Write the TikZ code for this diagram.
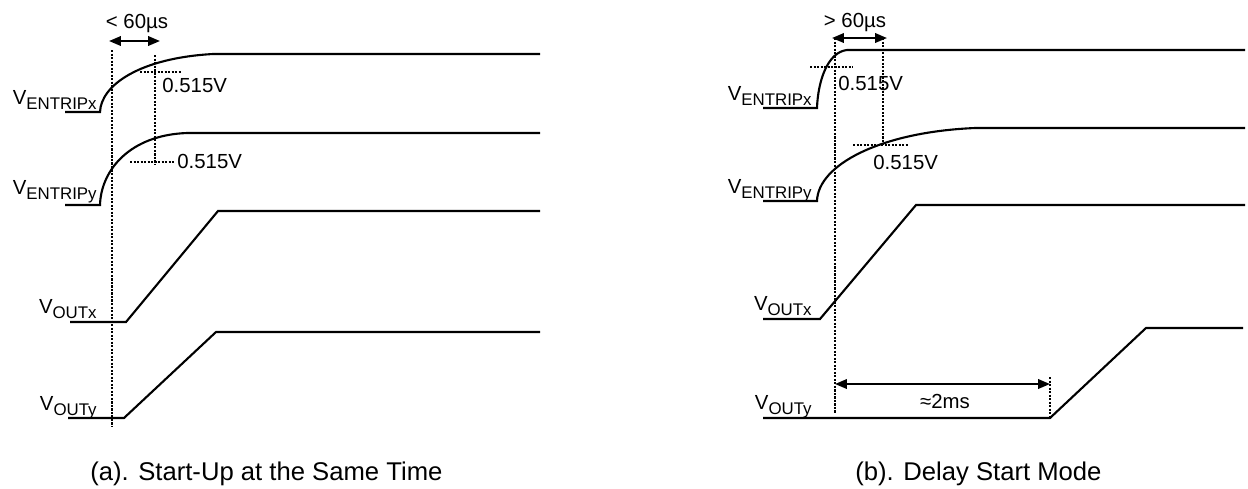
\documentclass[tikz,border=0pt]{standalone}
\usepackage{fontspec}
\setmainfont{Liberation Sans}
\usetikzlibrary{arrows.meta}
\newcommand{\vsig}[1]{V\raisebox{-3pt}{\fontsize{9.6}{10}\selectfont #1}}

\begin{document}
\begin{tikzpicture}[
		x=0.02cm, y=-0.02cm,
		wave/.style={line width=1.2pt},
		guide/.style={line width=1.5pt, dash pattern=on 1.2pt off 0.8pt},
		dim/.style={{Triangle[length=6.8pt,width=5.4pt]}-{Triangle[length=6.8pt,width=5.4pt]}, line width=1.2pt},
		lbl/.style={font=\fontsize{11.6}{13}\selectfont, inner sep=0pt},
		caption/.style={font=\fontsize{14.6}{17}\selectfont, inner sep=0pt}
	]
	\useasboundingbox (0,0) rectangle (1248,488);

	% (a) start-up at the same time
	\draw[wave] (65,112) -- (100,112) .. controls (101,85) and (140,58) .. (213,54) -- (540,54);
	\draw[wave] (65,205) -- (100,205) .. controls (101,170) and (130,135) .. (187,133) -- (540,133);
	\draw[wave] (70,322) -- (126,322) -- (218,211) -- (540,211);
	\draw[wave] (68,418) -- (124,418) -- (216,332) -- (540,332);
	\node[lbl, anchor=base east] (enxa) at (97,104) {\vsig{ENTRIPx}};
	\node[lbl, anchor=base east] (enya) at (97,194) {\vsig{ENTRIPy}};
	\node[lbl, anchor=base east] (outxa) at (97,313) {\vsig{OUTx}};
	\node[lbl, anchor=base east] (outya) at (97,410) {\vsig{OUTy}};
	\draw[guide] (112,50) -- (112,427);
	\draw[guide] (155,55) -- (155,165);
	\draw[guide] (140,72) -- (182,72);
	\draw[guide] (130,162) -- (175,162);
	\node[lbl, anchor=west] (thxa) at (162,85) {0.515V};
	\node[lbl, anchor=west] (thya) at (177,161) {0.515V};
	\coordinate (ta0) at (109,41);
	\coordinate (ta1) at (160,41);
	\draw[dim] (ta0) -- (ta1);
	\node[lbl, anchor=base] (dta) at (137,28) {< 60µs};
	\node[caption, anchor=base west] (capa) at (90,480) {(a). Start-Up at the Same Time};

	% (b) delay start mode
	\draw[wave] (763,108) -- (817,108) .. controls (818,80) and (828,52) .. (847,50) -- (1245,50);
	\draw[wave] (763,201) -- (817,201) .. controls (818,165) and (880,132) .. (975,128) -- (1245,128);
	\draw[wave] (763,319) -- (820,319) -- (916,205) -- (1245,205);
	\draw[wave] (763,418) -- (1050,418) -- (1146,328) -- (1243,328);
	\node[lbl, anchor=base east] (enxb) at (812,100) {\vsig{ENTRIPx}};
	\node[lbl, anchor=base east] (enyb) at (812,193) {\vsig{ENTRIPy}};
	\node[lbl, anchor=base east] (outxb) at (812,310) {\vsig{OUTx}};
	\node[lbl, anchor=base east] (outyb) at (812,409) {\vsig{OUTy}};
	\draw[guide] (835,38) -- (835,413);
	\draw[guide] (883,38) -- (883,145);
	\draw[guide] (810,67) -- (853,67);
	\draw[guide] (853,145) -- (908,145);
	\draw[guide] (1050,377) -- (1050,418);
	\node[lbl, anchor=west] (thxb) at (838,83) {0.515V};
	\node[lbl, anchor=west] (thyb) at (873,162) {0.515V};
	\coordinate (tb0) at (832,38);
	\coordinate (tb1) at (887,38);
	\draw[dim] (tb0) -- (tb1);
	\node[lbl, anchor=base] (dtb) at (855,27) {> 60µs};
	\coordinate (db0) at (835,384);
	\coordinate (db1) at (1050,384);
	\draw[dim] (db0) -- (db1);
	\node[lbl, anchor=base] (ddb) at (945,408) {≈2ms};
	\node[caption, anchor=base west] (capb) at (855,480) {(b). Delay Start Mode};
\end{tikzpicture}
\end{document}
